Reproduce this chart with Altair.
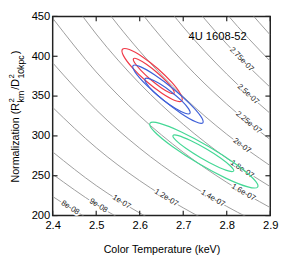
import math
import altair as alt
import pandas as pd

FONT = "Liberation Sans"

# ---------------- data ----------------
x_ticks = [2.4, 2.5, 2.6, 2.7, 2.8, 2.9]
y_ticks = [200, 250, 300, 350, 400, 450]

# iso-flux contour lines: normalization at each temperature sample
temps = [2.4, 2.5, 2.6, 2.7, 2.8, 2.9]
levels = ["8e-08", "9e-08", "1e-07", "1.2e-07", "1.4e-07", "1.6e-07", "1.8e-07",
          "2e-07", "2.25e-07", "2.5e-07", "2.75e-07", "3e-07", "3.25e-07"]
n_8e08 = [223.9, 190.2, 162.6, 139.8, 120.8, 105.0]
n_9e08 = [251.9, 213.9, 182.9, 157.2, 136.0, 118.2]
n_1e07 = [279.9, 237.7, 203.2, 174.7, 151.1, 131.3]
n_12e07 = [335.8, 285.2, 243.8, 209.7, 181.3, 157.5]
n_14e07 = [391.8, 332.8, 284.5, 244.6, 211.5, 183.8]
n_16e07 = [447.8, 380.3, 325.1, 279.5, 241.7, 210.0]
n_18e07 = [503.7, 427.9, 365.7, 314.5, 271.9, 236.3]
n_2e07 = [559.7, 475.4, 406.4, 349.4, 302.1, 262.6]
n_225e07 = [629.7, 534.8, 457.2, 393.1, 339.9, 295.4]
n_25e07 = [699.7, 594.3, 508.0, 436.8, 377.7, 328.2]
n_275e07 = [769.6, 653.7, 558.8, 480.5, 415.4, 361.0]
n_3e07 = [839.6, 713.1, 609.6, 524.1, 453.2, 393.8]
n_325e07 = [909.5, 772.5, 660.4, 567.8, 491.0, 426.7]
level_rows = [n_8e08, n_9e08, n_1e07, n_12e07, n_14e07, n_16e07, n_18e07,
              n_2e07, n_225e07, n_25e07, n_275e07, n_3e07, n_325e07]

# contour label positions (on the lines)
label_text = ["8e-08", "9e-08", "1e-07", "1.2e-07", "1.4e-07", "1.6e-07",
              "1.8e-07", "2e-07", "2.25e-07", "2.5e-07", "2.75e-07"]
label_T = [2.44, 2.505, 2.558, 2.661, 2.768, 2.838, 2.835, 2.835, 2.85, 2.849, 2.834]
label_N = [209.6, 212.2, 216.9, 222.2, 221.4, 229.0, 258.0, 287.5, 316.6, 352.2, 395.9]

# confidence contours
red_outer_T = [2.6965, 2.6807, 2.6510, 2.6152, 2.5829, 2.5629, 2.5604, 2.5762, 2.6059, 2.6417, 2.6739, 2.6940]
red_outer_N = [344.1, 344.5, 353.5, 368.6, 385.8, 400.5, 408.8, 408.4, 399.5, 384.4, 367.1, 352.4]
red_inner_T = [2.6788, 2.6689, 2.6492, 2.6250, 2.6027, 2.5884, 2.5858, 2.5957, 2.6154, 2.6396, 2.6619, 2.6762]
red_inner_N = [353.5, 354.2, 360.6, 370.9, 382.4, 391.9, 397.1, 396.3, 390.0, 379.7, 368.2, 358.6]
blue_outer_T = [2.7451, 2.7287, 2.6952, 2.6535, 2.6150, 2.5898, 2.5847, 2.6012, 2.6347, 2.6763, 2.7149, 2.7401]
blue_outer_N = [316.5, 317.7, 328.2, 345.2, 364.1, 379.8, 388.2, 387.0, 376.5, 359.6, 340.6, 324.9]
blue_inner_T = [2.7153, 2.7042, 2.6824, 2.6556, 2.6310, 2.6152, 2.6124, 2.6234, 2.6453, 2.6721, 2.6967, 2.7125]
blue_inner_N = [328.2, 328.4, 334.3, 344.5, 356.1, 366.1, 371.8, 371.6, 365.7, 355.5, 343.9, 333.9]
green_outer_T = [2.8712, 2.8486, 2.7988, 2.7353, 2.6750, 2.6340, 2.6235, 2.6461, 2.6958, 2.7594, 2.8197, 2.8607]
green_outer_N = [235.9, 236.0, 246.7, 265.3, 286.7, 305.2, 315.9, 315.8, 305.0, 286.4, 265.0, 246.5]
green_inner_T = [2.8159, 2.8035, 2.7756, 2.7400, 2.7060, 2.6827, 2.6765, 2.6890, 2.7168, 2.7525, 2.7865, 2.8097]
green_inner_N = [255.9, 256.1, 262.3, 272.7, 284.6, 294.8, 300.6, 300.4, 294.2, 283.8, 271.9, 261.6]

source_name = "4U 1608-52"
source_T, source_N = 2.779, 424.5

# ---------------- layout ----------------
W, H = 224, 205
xs = alt.Scale(domain=[2.4, 2.9], nice=False, zero=False)
ys = alt.Scale(domain=[200, 450], nice=False, zero=False)

xaxis = alt.Axis(values=x_ticks, format=".1f", title="Color Temperature (keV)",
                 ticks=False, domain=False, grid=False, labelPadding=4,
                 labelFont=FONT, labelFontSize=11.5, labelColor="black",
                 labelFlush=False, labelOverlap=False,
                 titleFont=FONT, titleFontSize=11, titleFontWeight="normal",
                 titleColor="black", titlePadding=14)
yaxis = alt.Axis(values=y_ticks, title=None, ticks=False, domain=False, grid=False,
                 labelPadding=3, labelFont=FONT, labelFontSize=11.5, labelColor="black",
                 labelFlush=False, labelOverlap=False)


def X(f):
    return alt.X(f, scale=xs, axis=xaxis)


def Y(f):
    return alt.Y(f, scale=ys, axis=yaxis)


rows = []
for lev, ns in zip(levels, level_rows):
    for t, n in zip(temps, ns):
        rows.append({"level": lev, "T": t, "N": n})
contour_df = pd.DataFrame(rows)

contours = alt.Chart(contour_df).mark_line(
    clip=True, interpolate="monotone", color="#9c9c9c", strokeWidth=1
).encode(x=X("T:Q"), y=Y("N:Q"), detail="level:N")

# label angles follow the local slope of the iso-flux curve (N ~ T^-4)
px_per_N = H / 250.0
px_per_T = W / 0.5
angles = [math.degrees(math.atan(4 * n / t * px_per_N / px_per_T))
          for t, n in zip(label_T, label_N)]
label_df = pd.DataFrame({"lab": label_text, "T": label_T, "N": label_N, "ang": angles})
lab_base = alt.Chart(label_df).encode(
    x=X("T:Q"), y=Y("N:Q"), text="lab:N", angle=alt.Angle("ang:Q", scale=None))
halo = lab_base.mark_text(font=FONT, fontSize=8, color="white", stroke="white",
                          strokeWidth=3.5, strokeJoin="round")
labels = lab_base.mark_text(font=FONT, fontSize=8, color="#222222")

ell_rows = []
for name, grp, Ts, Ns in [("red_outer", "red", red_outer_T, red_outer_N),
                          ("red_inner", "red", red_inner_T, red_inner_N),
                          ("blue_outer", "blue", blue_outer_T, blue_outer_N),
                          ("blue_inner", "blue", blue_inner_T, blue_inner_N),
                          ("green_outer", "green", green_outer_T, green_outer_N),
                          ("green_inner", "green", green_inner_T, green_inner_N)]:
    for i, (t, n) in enumerate(zip(Ts, Ns)):
        ell_rows.append({"name": name, "grp": grp, "i": i, "T": t, "N": n})
ell_df = pd.DataFrame(ell_rows)
ellipses = alt.Chart(ell_df).mark_line(
    interpolate="cardinal-closed", strokeWidth=1.2, clip=True
).encode(
    x=X("T:Q"), y=Y("N:Q"), detail="name:N", order="i:Q",
    color=alt.Color("grp:N", legend=None,
                    scale=alt.Scale(domain=["red", "blue", "green"],
                                    range=["#f03a48", "#3f60d8", "#45d896"])))

src = alt.Chart(pd.DataFrame({"s": [source_name], "T": [source_T], "N": [source_N]})).mark_text(
    font=FONT, fontSize=11.5, color="black").encode(x=X("T:Q"), y=Y("N:Q"), text="s:N")

# inward ticks on all four sides
xt = pd.DataFrame({"T": x_ticks})
yt = pd.DataFrame({"N": y_ticks})
tick_style = dict(color="#222222", strokeWidth=1.2)
t_bottom = alt.Chart(xt).mark_rule(**tick_style).encode(x=X("T:Q"), y=alt.value(H), y2=alt.value(H - 5))
t_top = alt.Chart(xt).mark_rule(**tick_style).encode(x=X("T:Q"), y=alt.value(0), y2=alt.value(5))
t_left = alt.Chart(yt).mark_rule(**tick_style).encode(y=Y("N:Q"), x=alt.value(0), x2=alt.value(5))
t_right = alt.Chart(yt).mark_rule(**tick_style).encode(y=Y("N:Q"), x=alt.value(W), x2=alt.value(W - 5))

# y-axis title with super/subscripts, built from rotated text pieces
def piece(txt, x, y, size):
    return alt.Chart(pd.DataFrame({"t": [txt]})).mark_text(
        font=FONT, fontSize=size, angle=270, align="left", baseline="middle", color="black"
    ).encode(text="t:N", x=alt.value(x), y=alt.value(y))

ytitle = [
    piece("Normalization (R", -37.5, 171, 11),
    piece("2", -41.5, 88.5, 8),
    piece("km", -33, 88.5, 9),
    piece("/D", -37.5, 75.5, 11),
    piece("2", -41.5, 64, 8),
    piece("10kpc", -33, 64, 9),
    piece(")", -37.5, 39, 11),
]

chart = alt.layer(
    contours, halo, labels, ellipses, src, t_bottom, t_top, t_left, t_right, *ytitle
).properties(
    width=W, height=H,
    padding={"left": 46, "top": 5, "right": 9, "bottom": 40},
    autosize=alt.AutoSizeParams(type="none"),
).configure_view(stroke="#222222", strokeWidth=1.5)

chart.save("out.html", embed_options={"renderer": "svg", "actions": False})
